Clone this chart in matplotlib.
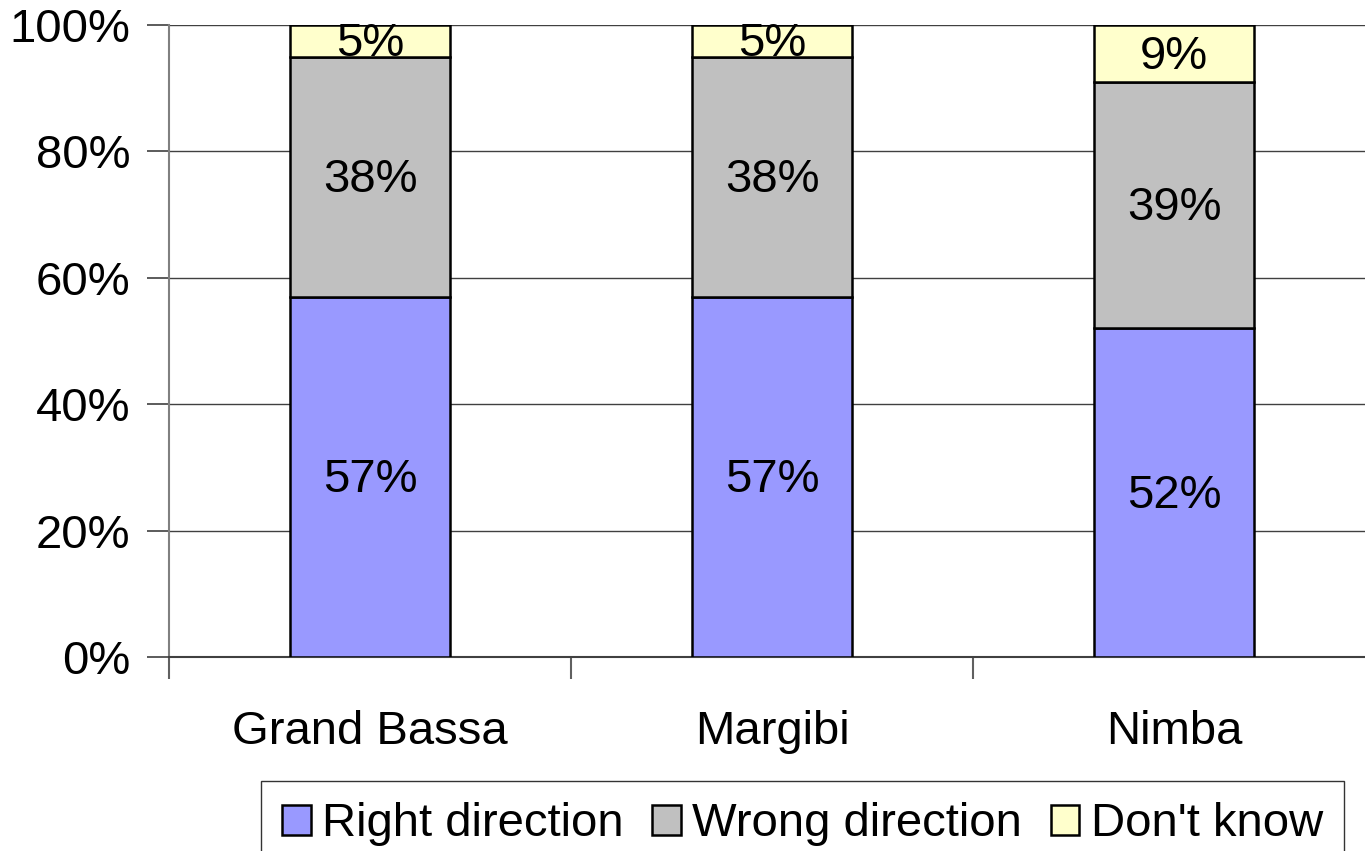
import matplotlib.pyplot as plt
import numpy as np

plt.rcParams['font.family'] = ['Liberation Sans', 'DejaVu Sans']

counties = ['Grand Bassa', 'Margibi', 'Nimba']
right_dir = [57, 57, 52]
wrong_dir = [38, 38, 39]
dont_know = [5, 5, 9]
series_names = ['Right direction', 'Wrong direction', "Don't know"]
colors = ['#9999FF', '#C0C0C0', '#FFFFCC']

fig = plt.figure(figsize=(13.65, 8.51), dpi=100)
ax = fig.add_axes([169/1365, 1-657/851, 1206/1365, 632/851])

x = np.arange(len(counties))
w = 0.398
bottom = np.zeros(len(counties))
handles = []
for vals, name, c in zip([right_dir, wrong_dir, dont_know], series_names, colors):
    b = ax.bar(x, vals, w, bottom=bottom, color=c, edgecolor='black', linewidth=1.8,
               label=name, zorder=3)
    handles.append(b)
    for xi, v, b0 in zip(x, vals, bottom):
        ax.text(xi, b0 + v/2 - 0.5, f'{v}%', ha='center', va='center', fontsize=34, zorder=4)
    bottom += np.array(vals)

ax.set_xlim(-0.5, 2.5)
ax.set_ylim(0, 100)
ax.set_yticks(np.arange(0, 101, 20))
ax.set_yticklabels([f'{v}%' for v in range(0, 101, 20)], fontsize=34)
ax.yaxis.grid(True, color='#404040', linewidth=1, zorder=0)
ax.set_xticks([-0.5, 0.5, 1.5, 2.5])
ax.set_xticklabels([])
ax.set_xticks(x, minor=True)
ax.set_xticklabels(counties, minor=True, fontsize=34)
ax.tick_params(axis='x', which='minor', length=0, pad=38)
ax.tick_params(axis='x', which='major', length=16, color='#606060', width=1.5)
ax.tick_params(axis='y', length=16, color='#404040', width=1.2, pad=12)
for s in ['top', 'right']:
    ax.spines[s].set_visible(False)
ax.spines['left'].set_color('#808080')
ax.spines['left'].set_linewidth(1.5)
ax.spines['bottom'].set_color('#404040')
ax.spines['bottom'].set_linewidth(1.5)

leg = fig.legend(handles=handles, loc='upper left', bbox_to_anchor=(261/1365, 1-781/851),
                 ncol=3, fontsize=34, frameon=True, fancybox=False,
                 handlelength=0.6, handleheight=0.6, handletextpad=0.25,
                 columnspacing=0.6, borderpad=0.45, borderaxespad=0)
leg.get_frame().set_edgecolor('black')
leg.get_frame().set_linewidth(1)

fig.savefig('out.png', dpi=100)
